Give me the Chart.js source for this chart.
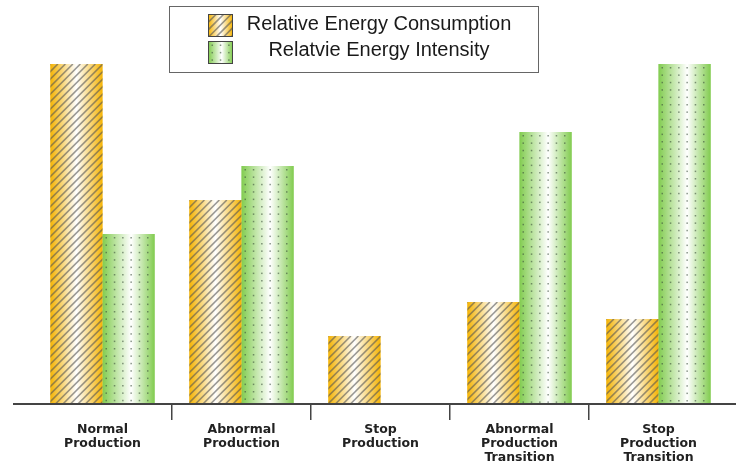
<!DOCTYPE html>
<html>
<head>
<meta charset="utf-8">
<script src="https://cdn.jsdelivr.net/npm/chart.js@4/dist/chart.umd.min.js"></script>
<style>
  html, body { margin: 0; padding: 0; background: #ffffff; }
  #wrap { width: 736px; height: 465px; }
</style>
</head>
<body>
<div id="wrap"><canvas id="chart" width="736" height="465"></canvas></div>
<script>
// Operating states (multi-line axis labels)
const categories = [
  ['Normal', 'Production'],
  ['Abnormal', 'Production'],
  ['Stop', 'Production'],
  ['Abnormal', 'Production', 'Transition'],
  ['Stop', 'Production', 'Transition']
];
const seriesNames = ['Relative Energy Consumption', 'Relatvie Energy Intensity'];
const consumption = [1.0, 0.6, 0.2, 0.3, 0.25];
const intensity = [0.5, 0.7, 0, 0.8, 1.0];

const ORANGE = '#f5b405';
const GREEN = '#82cc50';

// Fill a rectangle with a horizontal "shine" gradient plus a hatch or dot texture
function paintTexture(ctx, x0, y0, w, h, kind) {
  if (w <= 0 || h <= 0) return;
  ctx.save();
  ctx.beginPath();
  ctx.rect(x0, y0, w, h);
  ctx.clip();
  const base = kind === 'hatch' ? ORANGE : GREEN;
  const mid = kind === 'hatch' ? 0.5 : 0.55;
  const g = ctx.createLinearGradient(x0, 0, x0 + w, 0);
  g.addColorStop(0, base);
  g.addColorStop(mid, '#ffffff');
  g.addColorStop(1, base);
  ctx.fillStyle = g;
  ctx.fillRect(x0, y0, w, h);
  if (kind === 'hatch') {
    ctx.strokeStyle = 'rgba(85,85,85,0.6)';
    ctx.lineWidth = 1.6;
    for (let k = -h; k < w + h; k += 7.5) {
      ctx.beginPath();
      ctx.moveTo(x0 + k, y0 + h);
      ctx.lineTo(x0 + k + h, y0);
      ctx.stroke();
    }
  } else {
    ctx.fillStyle = 'rgba(60,80,60,0.6)';
    for (let yy = y0 + 3; yy < y0 + h; yy += 7.4) {
      for (let xx = x0 + 3; xx < x0 + w; xx += 8.3) {
        ctx.fillRect(xx, yy, 1.5, 1.5);
      }
    }
  }
  ctx.restore();
}

const textureBars = {
  id: 'textureBars',
  afterDatasetsDraw(chart) {
    const ctx = chart.ctx;
    chart.data.datasets.forEach((ds, di) => {
      const meta = chart.getDatasetMeta(di);
      meta.data.forEach(el => {
        const p = el.getProps(['x', 'y', 'base', 'width'], true);
        const top = Math.min(p.y, p.base);
        const h = Math.abs(p.base - p.y);
        paintTexture(ctx, p.x - p.width / 2, top, p.width, h, ds.texture);
      });
    });
  }
};

// Long baseline running past the plot area
const baseline = {
  id: 'baseline',
  afterDraw(chart) {
    const ctx = chart.ctx;
    const y = chart.chartArea.bottom;
    ctx.save();
    ctx.strokeStyle = '#444444';
    ctx.lineWidth = 2;
    ctx.beginPath();
    ctx.moveTo(13, y);
    ctx.lineTo(chart.width, y);
    ctx.stroke();
    ctx.restore();
  }
};

// Boxed legend overlaid at the top
const boxLegend = {
  id: 'boxLegend',
  afterDraw(chart) {
    const ctx = chart.ctx;
    ctx.save();
    ctx.fillStyle = '#ffffff';
    ctx.fillRect(169.5, 6.5, 369, 66);
    ctx.strokeStyle = '#666666';
    ctx.lineWidth = 1;
    ctx.strokeRect(169.5, 6.5, 369, 66);
    const rows = [{ y: 14, base: 29.5 }, { y: 41, base: 56 }];
    chart.data.datasets.forEach((ds, i) => {
      const r = rows[i];
      paintTexture(ctx, 208.5, r.y + 0.5, 24, 22, ds.texture);
      ctx.strokeStyle = '#444444';
      ctx.lineWidth = 1;
      ctx.strokeRect(208.5, r.y + 0.5, 24, 22);
      ctx.fillStyle = '#1a1a1a';
      ctx.font = '20px "Liberation Sans", Arial, sans-serif';
      ctx.textAlign = 'center';
      ctx.textBaseline = 'alphabetic';
      ctx.fillText(ds.label, 379, r.base);
    });
    ctx.restore();
  }
};

new Chart(document.getElementById('chart'), {
  type: 'bar',
  data: {
    labels: categories,
    datasets: [
      { label: seriesNames[0], data: consumption, backgroundColor: ORANGE, borderWidth: 0, texture: 'hatch' },
      { label: seriesNames[1], data: intensity, backgroundColor: GREEN, borderWidth: 0, texture: 'dots' }
    ]
  },
  options: {
    responsive: false,
    animation: false,
    devicePixelRatio: 1,
    layout: { padding: { top: 64, left: 33, right: 8, bottom: 0 } },
    datasets: { bar: { categoryPercentage: 0.75, barPercentage: 1.0 } },
    plugins: { legend: { display: false }, tooltip: { enabled: false } },
    scales: {
      x: {
        afterFit: scale => { scale.height = 61; },
        border: { display: false },
        grid: {
          display: true,
          offset: true,
          drawOnChartArea: false,
          drawTicks: true,
          tickLength: 16,
          lineWidth: 1.5,
          // only the separators between categories, not the outer edges
          color: c => (c.type !== 'tick' || c.index === 0) ? 'rgba(0,0,0,0)' : '#444444'
        },
        ticks: {
          autoSkip: false,
          maxRotation: 0,
          padding: 2.5,
          color: '#222222',
          font: { family: '"DejaVu Sans", Verdana, sans-serif', size: 12.5, weight: 'bold', lineHeight: 1.13 }
        }
      },
      y: { display: false, min: 0, max: 1 }
    }
  },
  plugins: [textureBars, baseline, boxLegend]
});
</script>
</body>
</html>
